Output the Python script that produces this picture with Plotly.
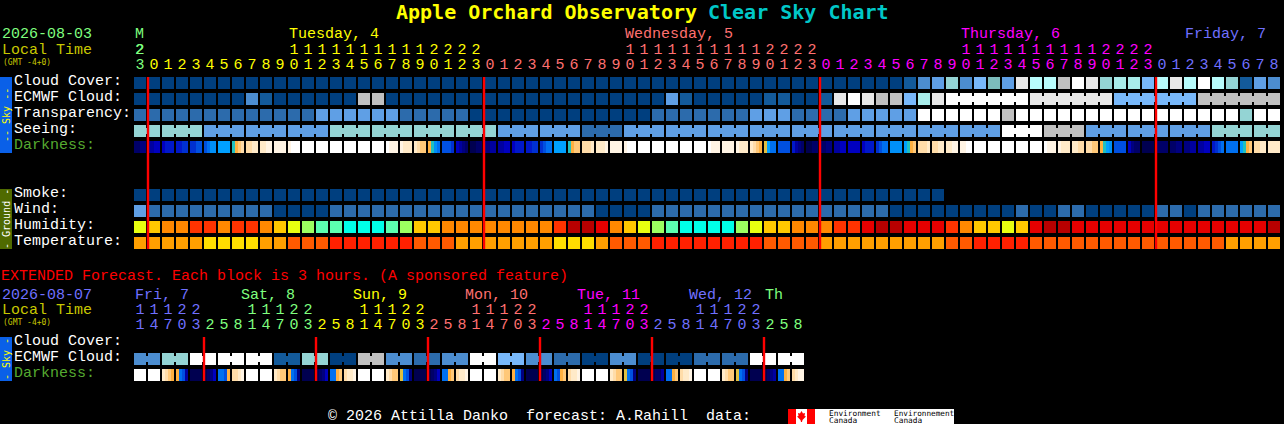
import plotly.graph_objects as go

# ---------- DATA ----------
title_site = "Apple Orchard Observatory"
title_chart = "Clear Sky Chart"

SKY_COLORS = ["#003f7f", "#135a9a", "#2c6bac", "#4c8dd0", "#5f9fe5", "#78b8fa", "#7cbcbc",
              "#94d4d4", "#a8ecea", "#b8fcfc", "#c0c0c0", "#e8e8e8", "#ffffff"]
HUMIDITY_COLORS = {"Y": "#e8ff10", "G": "#ffc800", "O": "#ff8800", "R": "#ff3300", "E": "#e60000",
                   "D": "#b80000", "L": "#9cff60", "M": "#5cffb0", "C": "#00ffe8"}
TEMP_COLORS = {"A": "#ff9f00", "B": "#ffdd00", "C": "#ff5a00", "D": "#ff2000"}
DARK_COLORS = ["#000050", "#000068", "#000080", "#0000a0", "#0000c0", "#0018c8", "#0030d0", "#0050e0",
               "#0070f0", "#0090f8", "#00a0ff", "#20c0c0", "#e0c040", "#ffb040", "#ffc878", "#ffdca8",
               "#ffeac8", "#fff4e4", "#ffffff"]

DAY_GREEN, DAY_YELLOW, DAY_SALMON, DAY_MAGENTA, DAY_BLUE = "#7fff7f", "#ffff00", "#ff7070", "#ff00ff", "#7070ff"

main_hours = [23,
              0, 1, 2, 3, 4, 5, 6, 7, 8, 9, 10, 11, 12, 13, 14, 15, 16, 17, 18, 19, 20, 21, 22, 23,
              0, 1, 2, 3, 4, 5, 6, 7, 8, 9, 10, 11, 12, 13, 14, 15, 16, 17, 18, 19, 20, 21, 22, 23,
              0, 1, 2, 3, 4, 5, 6, 7, 8, 9, 10, 11, 12, 13, 14, 15, 16, 17, 18, 19, 20, 21, 22, 23,
              0, 1, 2, 3, 4, 5, 6, 7, 8]
main_day_lengths = [1, 24, 24, 24, 9]
main_day_colors = [DAY_GREEN, DAY_YELLOW, DAY_SALMON, DAY_MAGENTA, DAY_BLUE]

cloud_cover = [0, 0, 0, 0, 0, 0, 0, 0, 0, 0,
               0, 0, 0, 0, 0, 0, 0, 0, 0, 0,
               0, 0, 0, 0, 0, 0, 0, 0, 0, 0,
               0, 0, 0, 0, 0, 0, 0, 0, 0, 0,
               0, 0, 0, 0, 0, 0, 0, 0, 0, 0,
               0, 0, 0, 0, 0, 1, 3, 4, 7, 3,
               5, 6, 4, 11, 9, 9, 10, 12, 11, 7,
               8, 8, 5, 9, 11, 9, 12, 9, 7, 1,
               4, 3]
ecmwf_cloud = [0, 0, 0, 0, 0, 0, 0, 0, 3, 1,
               0, 0, 0, 0, 0, 0, 10, 10, 0, 0,
               0, 0, 0, 0, 0, 0, 0, 0, 0, 0,
               0, 0, 0, 0, 0, 0, 0, 0, 4, 1,
               0, 0, 0, 0, 0, 1, 1, 0, 0, 1,
               11, 12, 11, 10, 10, 5, 8, 11, 12, 12,
               12, 12, 12, 12, 11, 11, 11, 11, 11, 11,
               5, 5, 5, 5, 5, 5, 10, 10, 10, 10,
               10, 10]
ecmwf_groups = [58, 6, 6, 6, 6]          # first 58 blocks stand alone, then six-block runs
transparency = [2, 2, 2, 2, 2, 2, 2, 2, 2, 2,
                2, 2, 2, 4, 4, 4, 4, 4, 4, 2,
                2, 2, 2, 2, 0, 0, 0, 0, 0, 0,
                0, 0, 0, 0, 0, 0, 0, 2, 2, 2,
                2, 2, 2, 2, 4, 4, 4, 2, 2, 2,
                2, 4, 4, 4, 4, 4, 12, 12, 12, 12,
                12, 12, 10, 12, 12, 12, 12, 12, 12, 12,
                12, 12, 12, 12, 12, 12, 12, 12, 12, 7,
                12, 12]
seeing_runs = [(2, 7), (3, 7), (3, 4), (3, 4), (3, 4), (3, 7), (3, 7), (3, 7), (3, 7), (3, 4),
               (3, 4), (3, 2), (3, 4), (3, 4), (3, 4), (3, 4), (3, 4), (3, 4), (3, 4), (3, 4),
               (3, 4), (3, 12), (3, 10), (3, 4), (3, 4), (3, 4), (3, 7), (2, 7)]
smoke = [0, 0, 0, 0, 0, 0, 0, 0, 0, 0,
         0, 0, 0, 0, 0, 0, 0, 0, 0, 0,
         0, 0, 0, 0, 0, 0, 0, 0, 0, 0,
         0, 0, 0, 0, 0, 0, 0, 0, 0, 0,
         0, 0, 0, 0, 0, 0, 0, 0, 0, 0,
         0, 0, 0, 0, 0, 0, 0, 0]
wind = [4, 2, 2, 2, 2, 2, 2, 2, 2, 2,
        0, 0, 0, 0, 2, 2, 2, 2, 2, 2,
        2, 2, 2, 2, 2, 2, 2, 2, 2, 2,
        2, 2, 2, 0, 0, 0, 0, 2, 2, 2,
        2, 2, 2, 2, 2, 2, 2, 2, 2, 2,
        2, 2, 2, 2, 0, 0, 0, 0, 0, 0,
        0, 0, 0, 2, 0, 0, 2, 2, 0, 0,
        0, 0, 0, 2, 2, 0, 2, 2, 2, 2,
        2, 2]
humidity = ["Y", "G", "O", "O", "R", "R", "O", "R", "R", "O",
            "G", "Y", "L", "M", "M", "C", "C", "C", "M", "L",
            "G", "G", "O", "O", "O", "O", "O", "O", "O", "O",
            "R", "D", "D", "E", "O", "G", "Y", "L", "M", "C",
            "C", "C", "C", "L", "Y", "G", "G", "O", "O", "O",
            "R", "R", "E", "D", "D", "E", "E", "E", "R", "O",
            "G", "G", "Y", "G", "E", "D", "D", "E", "E", "E",
            "E", "E", "E", "E", "E", "E", "E", "E", "E", "E",
            "E", "D"]
temperature = ["A", "A", "A", "A", "A", "B", "B", "B", "B", "A",
               "A", "C", "C", "C", "D", "D", "D", "D", "D", "D",
               "C", "C", "C", "A", "A", "A", "A", "A", "A", "A",
               "B", "B", "B", "A", "C", "C", "C", "D", "D", "D",
               "D", "D", "D", "D", "D", "C", "C", "C", "C", "A",
               "A", "A", "A", "A", "A", "A", "A", "A", "C", "C",
               "D", "D", "D", "D", "C", "C", "C", "C", "C", "C",
               "C", "C", "C", "C", "C", "C", "C", "C", "A", "A",
               "A", "A"]
darkness = [[1, 1, 2, 2], [3, 3, 4, 4], [4, 5, 5, 5], [5, 5, 6, 6], [6, 6, 7, 7], [7, 8, 9, 9],
            [10, 10, 10, 10], [11, 13, 14, 15], [15, 15, 16, 16], [16, 16, 17, 17], [17, 17, 17, 17],
            [17, 18, 18, 18], [18, 18, 18, 18], [18, 18, 18, 18], [18, 18, 18, 18], [18, 18, 18, 18],
            [18, 18, 18, 18], [18, 18, 18, 18], [18, 17, 17, 17], [17, 16, 16, 16], [16, 15, 14, 14],
            [13, 11, 9, 8], [7, 7, 7, 6], [4, 3, 2, 1], [0, 0, 1, 1], [2, 2, 3, 3], [3, 3, 4, 4],
            [4, 5, 5, 5], [5, 5, 6, 6], [6, 7, 8, 8], [10, 10, 10, 10], [11, 13, 14, 14],
            [15, 15, 15, 16], [16, 16, 16, 17], [17, 17, 17, 17], [17, 18, 18, 18], [18, 18, 18, 18],
            [18, 18, 18, 18], [18, 18, 18, 18], [18, 18, 18, 18], [18, 18, 18, 18], [18, 17, 17, 17],
            [17, 17, 17, 17], [17, 16, 16, 16], [16, 15, 14, 13], [12, 10, 8, 8], [7, 7, 7, 7],
            [5, 3, 2, 1], [0, 0, 1, 1], [1, 1, 2, 2], [3, 3, 4, 4], [4, 4, 4, 4], [4, 5, 5, 5],
            [6, 7, 8, 8], [9, 9, 9, 9], [10, 11, 13, 14], [15, 15, 15, 16], [15, 15, 16, 16],
            [16, 16, 17, 17], [17, 17, 18, 18], [18, 18, 18, 18], [18, 18, 18, 18], [18, 18, 18, 18],
            [18, 18, 18, 18], [18, 18, 18, 18], [18, 17, 17, 17], [17, 16, 16, 16], [16, 16, 15, 15],
            [15, 15, 14, 14], [13, 11, 10, 9], [7, 7, 7, 7], [4, 2, 1, 1], [0, 0, 0, 0], [1, 1, 1, 1],
            [1, 1, 2, 2], [2, 2, 3, 3], [3, 3, 4, 4], [5, 6, 7, 8], [8, 8, 8, 8], [10, 11, 13, 14],
            [15, 15, 16, 16], [16, 16, 16, 16]]

# Extended forecast
ext_hours = [11, 14, 17, 20, 23,
             2, 5, 8, 11, 14, 17, 20, 23,
             2, 5, 8, 11, 14, 17, 20, 23,
             2, 5, 8, 11, 14, 17, 20, 23,
             2, 5, 8, 11, 14, 17, 20, 23,
             2, 5, 8, 11, 14, 17, 20, 23,
             2, 5, 8]
ext_day_lengths = [5, 8, 8, 8, 8, 8, 3]
ext_day_colors = [DAY_BLUE, DAY_GREEN, DAY_YELLOW, DAY_SALMON, DAY_MAGENTA, DAY_BLUE, DAY_GREEN]
ext_ecmwf_pairs = [3, 7, 12, 12, 12, 1, 7, 0, 10, 3, 2, 3, 12, 5, 3, 2, 0, 3, 0, 0, 2, 2, 12, 12]
ext_darkness = [[18, 18, 18, 18], [18, 18, 18, 18], [16, 15, 14, 13], [13, 8, 7, 3],
                [0, 0, 0, 0], [0, 1, 2, 4], [8, 8, 7, 13], [15, 15, 16, 17],
                [18, 18, 18, 18], [18, 18, 18, 18], [16, 15, 14, 14], [13, 8, 7, 2],
                [0, 0, 0, 0], [0, 1, 2, 4], [8, 8, 13, 14], [15, 16, 16, 17],
                [18, 18, 18, 18], [18, 18, 18, 18], [16, 15, 14, 14], [12, 8, 7, 2],
                [0, 0, 0, 0], [0, 1, 2, 4], [8, 8, 13, 14], [15, 16, 16, 17],
                [18, 18, 18, 18], [18, 18, 18, 18], [16, 15, 14, 14], [13, 8, 7, 2],
                [0, 0, 0, 0], [0, 1, 2, 4], [8, 7, 13, 14], [15, 16, 16, 17],
                [18, 18, 18, 18], [18, 18, 18, 18], [16, 15, 14, 14], [12, 8, 7, 2],
                [0, 0, 0, 0], [0, 1, 1, 3], [8, 8, 13, 14], [15, 16, 16, 17],
                [18, 18, 18, 18], [18, 18, 18, 18], [16, 15, 14, 14], [12, 8, 7, 2],
                [0, 0, 0, 0], [0, 1, 2, 3], [8, 8, 13, 14], [15, 16, 17, 17]]

main_labels = [("Cloud Cover:", 0, "#ffffff"), ("ECMWF Cloud:", 1, "#ffffff"), ("Transparency:", 2, "#ffffff"),
               ("Seeing:", 3, "#ffffff"), ("Darkness:", 4, "#55aa30"), ("Smoke:", 7, "#ffffff"),
               ("Wind:", 8, "#ffffff"), ("Humidity:", 9, "#ffffff"), ("Temperature:", 10, "#ffffff")]
ext_labels = [("Cloud Cover:", 341, "#ffffff"), ("ECMWF Cloud:", 357, "#ffffff"), ("Darkness:", 373, "#55aa30")]
main_days = [("Tuesday, 4", 289, DAY_YELLOW), ("Wednesday, 5", 625, DAY_SALMON),
             ("Thursday, 6", 961, DAY_MAGENTA), ("Friday, 7", 1185, DAY_BLUE)]
ext_days = [("Fri, 7", 135, DAY_BLUE), ("Sat, 8", 241, DAY_GREEN), ("Sun, 9", 353, DAY_YELLOW),
            ("Mon, 10", 465, DAY_SALMON), ("Tue, 11", 577, DAY_MAGENTA), ("Wed, 12", 689, DAY_BLUE),
            ("Th", 765, DAY_GREEN)]
main_midnights = [0, 24, 48, 72]
ext_midnights = [4, 12, 20, 28, 36, 44]

# ---------- GEOMETRY ----------
W, H = 1284, 424
PITCH_X, PITCH_Y, BLOCK = 14.0, 16.0, 12.0
X0, Y0 = 140.0, 83.0                    # centre of block 0 / row 0 in pixels
MONO, BOLD = "Liberation Mono", "DejaVu Sans Mono"
FS = 15


def r_of(ypx):
    return (ypx - Y0) / PITCH_Y


def expand(day_lengths, day_colors):
    out = []
    for n, c in zip(day_lengths, day_colors):
        out += [c] * n
    return out


fig = go.Figure()


def blocks(name, xs, row, colors, width=BLOCK / PITCH_X, height=BLOCK / PITCH_Y):
    fig.add_trace(go.Bar(name=name, x=xs, y=[height] * len(xs), base=[row - height / 2] * len(xs),
                         width=[width] * len(xs), marker=dict(color=colors, line=dict(width=0)),
                         hoverinfo="skip", showlegend=False))


def row_blocks(name, values, row, palette):
    blocks(name, list(range(len(values))), row, [palette[v] for v in values])


def connectors(name, values, sizes, row, palette):
    xs, cs, i = [], [], 0
    for n in sizes:
        for k in range(n - 1):
            xs.append(i + k + 0.5)
            cs.append(palette[values[i + k]])
        i += n
    blocks(name, xs, row, cs, width=2.2 / PITCH_X, height=6 / PITCH_Y)


def dark_blocks(name, values, row):
    xs, cs = [], []
    for i, cell in enumerate(values):
        for k, v in enumerate(cell):
            xs.append(i + (k - 1.5) * 3 / PITCH_X)
            cs.append(DARK_COLORS[v])
    blocks(name, xs, row, cs, width=3 / PITCH_X)


def red_lines(name, midnights, y_top, y_bot):
    xs = [m + 8 / PITCH_X for m in midnights]
    h = (y_bot - y_top) / PITCH_Y
    blocks(name, xs, r_of((y_top + y_bot) / 2), ["#ff0000"] * len(xs), width=2.4 / PITCH_X, height=h)


# main rows
seeing = []
for n, v in seeing_runs:
    seeing += [v] * n
row_blocks("Cloud Cover", cloud_cover, 0, SKY_COLORS)
row_blocks("ECMWF Cloud", ecmwf_cloud, 1, SKY_COLORS)
connectors("ECMWF join", ecmwf_cloud, [1] * 58 + ecmwf_groups[1:], 1, SKY_COLORS)
row_blocks("Transparency", transparency, 2, SKY_COLORS)
row_blocks("Seeing", seeing, 3, SKY_COLORS)
connectors("Seeing join", seeing, [n for n, _ in seeing_runs], 3, SKY_COLORS)
dark_blocks("Darkness", darkness, 4)
row_blocks("Smoke", smoke, 7, SKY_COLORS)
row_blocks("Wind", wind, 8, SKY_COLORS)
row_blocks("Humidity", humidity, 9, HUMIDITY_COLORS)
row_blocks("Temperature", temperature, 10, TEMP_COLORS)
red_lines("Main midnight", main_midnights, 77, 249)

# extended rows
ext_ecmwf = []
for v in ext_ecmwf_pairs:
    ext_ecmwf += [v, v]
row_blocks("Ext ECMWF", ext_ecmwf, r_of(359), SKY_COLORS)
connectors("Ext ECMWF join", ext_ecmwf, [2] * len(ext_ecmwf_pairs), r_of(359), SKY_COLORS)
dark_blocks("Ext Darkness", ext_darkness, r_of(375))
red_lines("Ext midnight", ext_midnights, 337, 381)


# digit rows
def digits(name, xs, labels, y_px, colors):
    fig.add_trace(go.Scatter(name=name, x=xs, y=[r_of(y_px)] * len(xs), mode="text", text=labels,
                             textposition="middle center", cliponaxis=False,
                             textfont=dict(family=MONO, size=FS, color=colors),
                             hoverinfo="skip", showlegend=False))


m_cols = expand(main_day_lengths, main_day_colors)
digits("Hour ones", list(range(len(main_hours))), [str(h % 10) for h in main_hours], 65, m_cols)
t_idx = [i for i, h in enumerate(main_hours) if h >= 10]
digits("Hour tens", t_idx, [str(main_hours[i] // 10) for i in t_idx], 50, [m_cols[i] for i in t_idx])
e_cols = expand(ext_day_lengths, ext_day_colors)
digits("Ext ones", list(range(len(ext_hours))), [str(h % 10) for h in ext_hours], 325, e_cols)
e_idx = [i for i, h in enumerate(ext_hours) if h >= 10]
digits("Ext tens", e_idx, [str(ext_hours[i] // 10) for i in e_idx], 310, [e_cols[i] for i in e_idx])

# ---------- TEXT ----------
ann = []


def text(x, y, s, color, size=FS, family=MONO, anchor="left", angle=0):
    ann.append(dict(x=(x - 1) / W if anchor == "left" else x / W, y=1 - y / H, xref="paper", yref="paper",
                    text=s, showarrow=False, xanchor=anchor, yanchor="middle", borderpad=0, textangle=angle,
                    font=dict(family=family, size=size, color=color)))


text(396, 12, "<b>%s</b>" % title_site, "#ffff00", 20, BOLD)
text(708, 12, "<b>%s</b>" % title_chart, "#00c8c8", 20, BOLD)
text(2, 35, "2026-08-03", DAY_GREEN)
text(2, 50, "Local Time", "#c8c800")
text(3, 62, "(GMT -4+0)", "#c8c800", 8, BOLD)
text(135, 35, "M", DAY_GREEN)
text(135, 50, "2", DAY_GREEN)
for s, x, c in main_days:
    text(x, 35, s, c)
for s, r, c in main_labels:
    text(14, Y0 + r * PITCH_Y - 1.5, s, c)
text(0.5, 276, "EXTENDED Forecast. Each block is 3 hours. (A sponsored feature)", "#ff0000")
text(2, 295, "2026-08-07", DAY_BLUE)
text(2, 310, "Local Time", "#c8c800")
text(3, 322, "(GMT -4+0)", "#c8c800", 8, BOLD)
for s, x, c in ext_days:
    text(x, 295, s, c)
for s, y, c in ext_labels:
    text(14, y, s, c)
text(328, 416, "\u00a9 2026 Attilla Danko\u00a0\u00a0forecast: A.Rahill\u00a0\u00a0data:", "#ffffff")

text(6, 115, "-- Sky --", "#ffff00", 10, BOLD, angle=-90, anchor="center")
text(6, 219, "- Ground -", "#ffffff", 10, BOLD, angle=-90, anchor="center")
text(6, 359, "- Sky -", "#ffff00", 10, BOLD, angle=-90, anchor="center")

text(829, 413, "Environment", "#000000", 7.8, BOLD)
text(829, 420, "Canada", "#000000", 7.8, BOLD)
text(894, 413, "Environnement", "#000000", 7.7, BOLD)
text(894, 420, "Canada", "#000000", 7.8, BOLD)


def rect(x0, y0, x1, y1, color):
    return dict(type="rect", xref="paper", yref="paper", x0=x0 / W, x1=x1 / W, y0=1 - y0 / H, y1=1 - y1 / H,
                fillcolor=color, line=dict(width=0), layer="below")


shapes = [rect(0, 77, 12, 153, "#0a60e8"), rect(0, 189, 12, 249, "#4f6a00"), rect(0, 337, 12, 381, "#0a60e8"),
          rect(788, 409, 954, 424, "#ffffff"), rect(788, 409, 796, 424, "#ff0000"), rect(807, 409, 815, 424, "#ff0000")]
leaf = [(801.5, 411), (803, 413.5), (805, 413), (804.5, 416), (806, 416.5), (802.5, 420), (802, 422), (801, 422),
        (800.5, 420), (797, 416.5), (798.5, 416), (798, 413), (800, 413.5)]
shapes.append(dict(type="path", xref="paper", yref="paper", fillcolor="#ff0000", line=dict(width=0),
                   path="M " + " L ".join("%.5f %.5f" % (x / W, 1 - y / H) for x, y in leaf) + " Z"))

fig.update_layout(
    width=W, height=H, autosize=False, margin=dict(l=0, r=0, t=0, b=0, pad=0),
    paper_bgcolor="#000000", plot_bgcolor="#000000", barmode="overlay", showlegend=False,
    xaxis=dict(range=[(0 - X0) / PITCH_X, (W - X0) / PITCH_X], visible=False, fixedrange=True),
    yaxis=dict(range=[(H - Y0) / PITCH_Y, (0 - Y0) / PITCH_Y], visible=False, fixedrange=True),
    annotations=ann, shapes=shapes, font=dict(family=MONO),
)
fig.write_html("out.html", config={"displayModeBar": False},
               post_script="document.body.style.margin='0';document.body.style.background='#000';document.body.style.overflow='hidden';")
